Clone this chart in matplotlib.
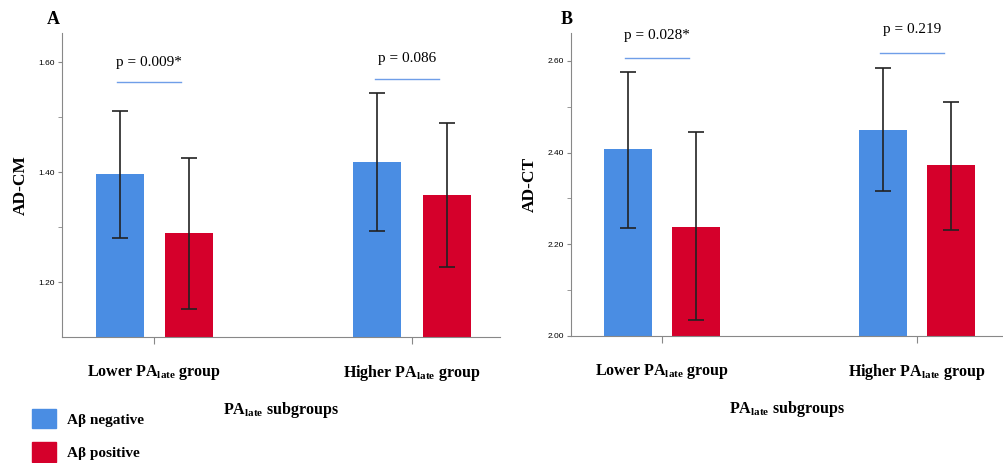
import matplotlib.pyplot as plt
from matplotlib.patches import Patch

plt.rcParams['mathtext.fontset'] = 'custom'
plt.rcParams['mathtext.rm'] = 'Liberation Serif:bold'

groups = [r'Lower PA$_{\mathrm{late}}$ group', r'Higher PA$_{\mathrm{late}}$ group']
series = ['Aβ negative', 'Aβ positive']
colors = ['#4a8de3', '#d5002b']

# panel A: AD-CM
cm_mean = [[1.396, 1.418], [1.289, 1.358]]
cm_low = [[1.280, 1.293], [1.151, 1.227]]
cm_high = [[1.511, 1.544], [1.425, 1.489]]
cm_p = ['p = 0.009*', 'p = 0.086']
cm_line = [1.564, 1.569]
cm_text = [1.600, 1.606]

# panel B: AD-CT
ct_mean = [[2.407, 2.450], [2.237, 2.372]]
ct_low = [[2.235, 2.317], [2.035, 2.231]]
ct_high = [[2.576, 2.585], [2.444, 2.510]]
ct_p = ['p = 0.028*', 'p = 0.219']
ct_line = [2.606, 2.617]
ct_text = [2.656, 2.668]

fig = plt.figure(figsize=(10.04, 4.63), dpi=100)
W, H = 1004, 463


def panel(rect, mean, low, high, pv, pline, ptext, ylim, ticks, minor, ylabel, letter, lx):
    ax = fig.add_axes([rect[0] / W, 1 - rect[3] / H, (rect[1] - rect[0]) / W, (rect[3] - rect[2]) / H])
    off = 0.134
    bw = 0.186
    for s in range(2):
        xs = [g + (s * 2 - 1) * off for g in range(2)]
        yerr = [[mean[s][g] - low[s][g] for g in range(2)], [high[s][g] - mean[s][g] for g in range(2)]]
        ax.bar(xs, [m - ylim[0] for m in mean[s]], bw, bottom=ylim[0], color=colors[s], zorder=2)
        ax.errorbar(xs, mean[s], yerr=yerr, fmt='none', ecolor='#222222', elinewidth=1.2,
                    capsize=6, capthick=1.2, zorder=3)
    for g in range(2):
        ax.plot([g - 0.145, g + 0.105], [pline[g], pline[g]], color='#6f9ee8', lw=1)
        ax.text(g - 0.02, ptext[g], pv[g], ha='center', va='center', fontsize=11,
                family='Liberation Serif')
    ax.set_xlim(-0.357, 1.341)
    ax.set_ylim(*ylim)
    ax.set_yticks(ticks)
    ax.set_yticklabels(['%.2f' % t for t in ticks], fontsize=6, family='Liberation Sans')
    ax.set_yticks(minor, minor=True)
    ax.set_xticks([0, 1])
    ax.set_xticklabels(groups, fontsize=11.5, family='Liberation Serif', fontweight='bold')
    ax.tick_params(axis='x', length=5, pad=14, color='#888888')
    ax.tick_params(axis='y', which='both', length=3, color='#888888', pad=2)
    for side in ['top', 'right']:
        ax.spines[side].set_visible(False)
    for side in ['left', 'bottom']:
        ax.spines[side].set_color('#888888')
    ax.set_xlabel(r'PA$_{\mathrm{late}}$ subgroups', fontsize=11.5, family='Liberation Serif',
                  fontweight='bold', labelpad=12)
    ax.set_ylabel(ylabel, fontsize=12.5, family='Liberation Serif', fontweight='bold', labelpad=7)
    fig.text(lx / W, 1 - 20 / H, letter, fontsize=13, family='Liberation Serif',
             fontweight='bold', ha='center', va='center')
    return ax


panel((62, 500, 33, 337), cm_mean, cm_low, cm_high, cm_p, cm_line, cm_text,
      (1.10, 1.653), [1.20, 1.40, 1.60], [1.30, 1.50], 'AD-CM', 'A', 53)
panel((571, 1004, 33, 336), ct_mean, ct_low, ct_high, ct_p, ct_line, ct_text,
      (2.00, 2.661), [2.00, 2.20, 2.40, 2.60], [2.10, 2.30, 2.50], 'AD-CT', 'B', 567)

handles = [Patch(color=c) for c in colors]
fig.legend(handles, series, loc='upper left', bbox_to_anchor=(18 / W, 1 - 395 / H),
           frameon=False, handlelength=1.6, handleheight=1.6, labelspacing=0.9,
           handletextpad=0.7, prop={'family': 'Liberation Serif', 'weight': 'bold', 'size': 11})

fig.savefig('out.png', dpi=100)
